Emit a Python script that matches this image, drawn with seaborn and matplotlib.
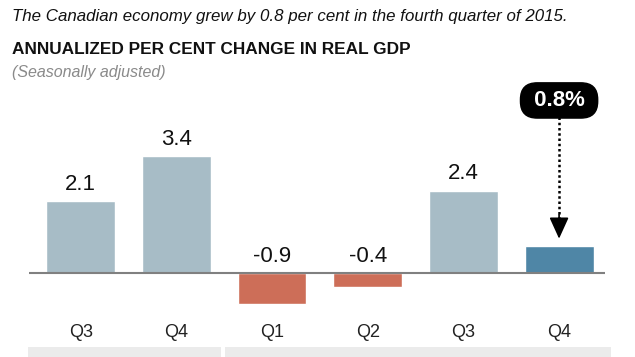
import matplotlib
matplotlib.use("Agg")
import matplotlib.pyplot as plt
import matplotlib.patches as mpatches
import seaborn as sns
import pandas as pd

# data
periods = ["2014 Q3", "2014 Q4", "2015 Q1", "2015 Q2", "2015 Q3", "2015 Q4"]
quarters = ["Q3", "Q4", "Q1", "Q2", "Q3", "Q4"]
gdp_change = [2.1, 3.4, -0.9, -0.4, 2.4, 0.8]
bar_colors = ["#a7bcc6", "#a7bcc6", "#cd6e58", "#cd6e58", "#a7bcc6", "#4f86a6"]
callout = "0.8%"

df = pd.DataFrame({"period": periods, "change": gdp_change})

sns.set_theme(style="white")
plt.rcParams["font.family"] = ["Liberation Sans", "DejaVu Sans"]

W, H = 635, 357
fig = plt.figure(figsize=(W / 100, H / 100), dpi=100)
fig.patch.set_facecolor("white")

# axes placed in pixel terms: x 29..605, y 120..310 (from top)
ax = fig.add_axes([29 / W, 1 - 310 / H, 576 / W, 190 / H])
sns.barplot(data=df, x="period", y="change", hue="period", palette=bar_colors,
            order=periods, width=0.72, saturation=1, legend=False, ax=ax)

ax.set_xlim(-0.54, 5.48)
ax.set_ylim(-1.08, 4.46)
ax.axhline(0, color="#808080", lw=1.5, zorder=3)
for s in ax.spines.values():
    s.set_visible(False)
ax.set_yticks([])
ax.set_xlabel("")
ax.set_ylabel("")
ax.set_xticks(range(len(quarters)))
ax.set_xticklabels(quarters, fontsize=13, color="#222222")
ax.tick_params(axis="x", length=0, pad=10)

# value labels above bars (negatives shown above the baseline)
for i, v in enumerate(gdp_change):
    if i == 5:
        continue
    y = max(v, 0) + 0.18
    ax.text(i, y, f"{v:.1f}", ha="center", va="bottom", fontsize=16, color="#111111")

# callout pill
ax.annotate(f" {callout} ", xy=(5, 5.03), xycoords="data", ha="center", va="center",
            fontsize=16, fontweight="bold", color="white", annotation_clip=False,
            bbox=dict(boxstyle="round,pad=0.32,rounding_size=0.75", fc="black", ec="black"))
# dotted stem and solid arrowhead
ax.plot([5, 5], [4.55, 1.5], ls=(0, (1, 1.1)), lw=1.8, color="black", clip_on=False)
ax.annotate("", xy=(5, 1.0), xytext=(5, 1.7), annotation_clip=False,
            arrowprops=dict(arrowstyle="-|>,head_length=1.1,head_width=0.5",
                            lw=1.2, color="black", shrinkA=0, shrinkB=0))

# titles
fig.text(12 / W, 1 - 17 / H, "The Canadian economy grew by 0.8 per cent in the fourth quarter of 2015.",
         fontsize=12.2, style="italic", color="#111111", va="center", ha="left")
fig.text(12 / W, 1 - 50 / H, "ANNUALIZED PER CENT CHANGE IN REAL GDP",
         fontsize=12.4, fontweight="bold", color="#111111", va="center", ha="left")
fig.text(12 / W, 1 - 72 / H, "(Seasonally adjusted)",
         fontsize=11.5, style="italic", color="#8a8a8a", va="center", ha="left")

# year bands at the bottom edge
for x0, x1 in [(28, 221), (225, 611)]:
    fig.patches.append(mpatches.Rectangle((x0 / W, 0), (x1 - x0) / W, 10 / H,
                                          transform=fig.transFigure, fc="#ebebeb",
                                          ec="none", zorder=0))

fig.savefig("out.png", dpi=100)
